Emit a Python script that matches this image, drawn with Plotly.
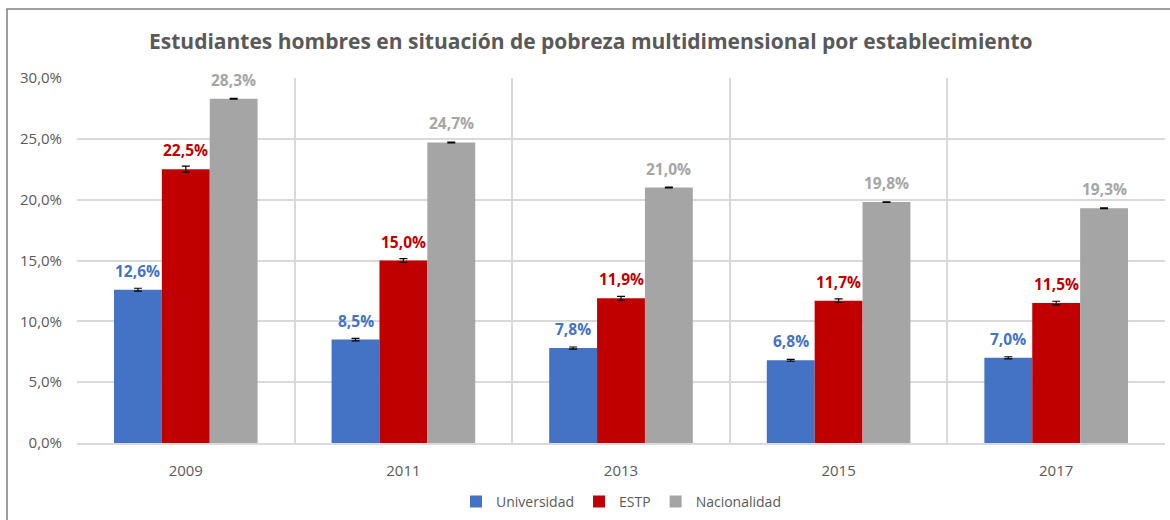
import plotly.graph_objects as go

years = ["2009", "2011", "2013", "2015", "2017"]
series_names = ["Universidad", "ESTP", "Nacionalidad"]
universidad = [0.126, 0.085, 0.078, 0.068, 0.070]
estp = [0.225, 0.150, 0.119, 0.117, 0.115]
nacionalidad = [0.283, 0.247, 0.210, 0.198, 0.193]
err_universidad = [0.0012, 0.0010, 0.0009, 0.0008, 0.0009]
err_estp = [0.0025, 0.0015, 0.0015, 0.0015, 0.0015]
err_nacionalidad = [0.0003, 0.0003, 0.0003, 0.0003, 0.0003]
colors = ["#4472C4", "#C00000", "#A5A5A5"]
y_ticks = [0, 0.05, 0.10, 0.15, 0.20, 0.25, 0.30]

FONT = "Open Sans"
GRAY_TXT = "#595959"
BARGAP = 0.34

xpos = list(range(len(years)))
all_vals = [universidad, estp, nacionalidad]
all_errs = [err_universidad, err_estp, err_nacionalidad]

fig = go.Figure()
for name, vals, errs, col in zip(series_names, all_vals, all_errs, colors):
    fig.add_trace(go.Bar(
        name=name, x=xpos, y=vals, marker=dict(color=col, line=dict(width=0)),
        error_y=dict(type="data", array=errs, visible=True, color="black", thickness=1.2, width=4),
    ))

bw = (1 - BARGAP) / 3
annotations = []
for k, (vals, col) in enumerate(zip(all_vals, colors)):
    for i, v in enumerate(vals):
        annotations.append(dict(
            x=i + (k - 1) * bw, y=v, xref="x", yref="y", text=f"{v*100:.1f}%".replace(".", ","),
            showarrow=False, yanchor="bottom", yshift=6,
            font=dict(family=FONT, size=15.5, color=col, weight="bold"),
        ))

fig.update_layout(
    width=1170, height=520,
    barmode="group", bargap=BARGAP, bargroupgap=0,
    separators=",.",
    paper_bgcolor="white", plot_bgcolor="white",
    margin=dict(l=77, r=5, t=78, b=77, autoexpand=False),
    font=dict(family=FONT, color=GRAY_TXT, size=14),
    title=dict(text="<b>Estudiantes hombres en situación de pobreza multidimensional por establecimiento</b>",
               x=0.505, xanchor="center", y=0.92, yanchor="middle",
               font=dict(family=FONT, size=21, color=GRAY_TXT)),
    legend=dict(orientation="h", x=0.5, xanchor="center", yref="container", y=0.035, yanchor="middle",
                font=dict(family=FONT, size=14, color=GRAY_TXT), itemwidth=30,
                traceorder="normal"),
    annotations=annotations,
    showlegend=True,
)
fig.update_xaxes(
    range=[-0.5, len(years) - 0.5], tickmode="array", tickvals=xpos, ticktext=years,
    showgrid=False, showline=True, linecolor="#D9D9D9", linewidth=1.5, ticks="",
    tickfont=dict(size=15, color=GRAY_TXT), zeroline=False, automargin=False,
    ticklabelstandoff=13,
    minor=dict(tickmode="array", tickvals=[i - 0.5 for i in range(len(years) + 1)],
               showgrid=True, gridcolor="#D9D9D9", gridwidth=1.5, ticks=""),
)
fig.update_yaxes(
    range=[0, 0.30], tickmode="array", tickvals=y_ticks, tickformat=".1%",
    showgrid=True, gridcolor="#D9D9D9", gridwidth=1.5, zeroline=False,
    showline=False, ticks="", ticklabelstandoff=14, automargin=False,
    tickfont=dict(size=15, color=GRAY_TXT),
)
fig.add_shape(type="rect", xref="paper", yref="paper",
              x0=(7 - 77) / 1088, x1=1.02, y0=-0.3, y1=(443 - 9) / 365,
              line=dict(color="#7F7F7F", width=1.5), fillcolor="rgba(0,0,0,0)", layer="below")

fig.write_html("out.html", config={"displayModeBar": False},
               post_script="document.body.style.margin='0';document.body.style.overflow='hidden';")
